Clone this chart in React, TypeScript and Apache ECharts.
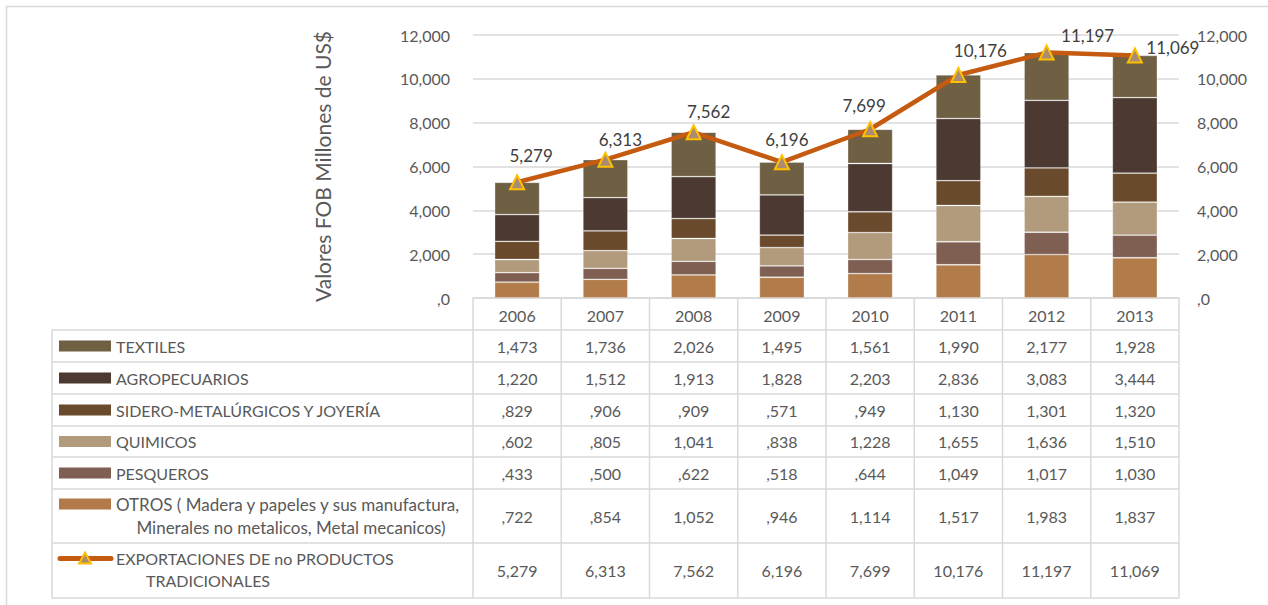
import { useEffect, useRef } from 'react';
import * as echarts from 'echarts';

// ---------- data ----------
const years = ['2006', '2007', '2008', '2009', '2010', '2011', '2012', '2013'];
const textiles = [1473, 1736, 2026, 1495, 1561, 1990, 2177, 1928];
const agropecuarios = [1220, 1512, 1913, 1828, 2203, 2836, 3083, 3444];
const sideroMetalurgicos = [829, 906, 909, 571, 949, 1130, 1301, 1320];
const quimicos = [602, 805, 1041, 838, 1228, 1655, 1636, 1510];
const pesqueros = [433, 500, 622, 518, 644, 1049, 1017, 1030];
const otros = [722, 854, 1052, 946, 1114, 1517, 1983, 1837];
const exportaciones = [5279, 6313, 7562, 6196, 7699, 10176, 11197, 11069];
const axisMin = 0;
const axisMax = 12000;
const axisInterval = 2000;
const axisTitle = 'Valores FOB Millones de US$';

// ---------- layout / style (not data) ----------
const W = 1268;
const H = 605;
const FONT = 'Lato, "Open Sans", sans-serif';
const gridLeft = 473;
const gridRight = 1179;
const gridTop = 35;
const gridBottom = 298;
const tableLeft = 52;
const rowBounds = [330, 362, 394, 426, 457, 489, 543, 598];
const borderCol = '#d9d9d9';
const textCol = '#595959';
const lineCol = '#C55A11';
const markerFill = '#A98C72';
const markerStroke = '#FFC000';
// label shifts for the line's data labels (layout only)
const labelShift = [[14, -8], [15, -2], [15, -2], [5, -4], [-6, -5], [22, -6], [41, 1], [38, 11]];

const fmt = (v: number) =>
  v === 0 ? ',0' : v < 1000 ? ',' + String(v).padStart(3, '0') : v.toLocaleString('en-US');

type Row = {
  name: string;
  values: number[];
  color: string;
  kind: 'bar' | 'line';
  lines: { text: string; x: number; align: string; dy: number; size?: number }[];
};

const rows: Row[] = [
  { name: 'TEXTILES', values: textiles, color: '#6F5F43', kind: 'bar', lines: [{ text: 'TEXTILES', x: 116, align: 'left', dy: 0 }] },
  { name: 'AGROPECUARIOS', values: agropecuarios, color: '#4B3932', kind: 'bar', lines: [{ text: 'AGROPECUARIOS', x: 116, align: 'left', dy: 0 }] },
  { name: 'SIDERO-METALÚRGICOS Y JOYERÍA', values: sideroMetalurgicos, color: '#6A4A2C', kind: 'bar', lines: [{ text: 'SIDERO-METALÚRGICOS Y JOYERÍA', x: 116, align: 'left', dy: 0 }] },
  { name: 'QUIMICOS', values: quimicos, color: '#B19B7C', kind: 'bar', lines: [{ text: 'QUIMICOS', x: 116, align: 'left', dy: 0 }] },
  { name: 'PESQUEROS', values: pesqueros, color: '#7E5F52', kind: 'bar', lines: [{ text: 'PESQUEROS', x: 116, align: 'left', dy: 0 }] },
  {
    name: 'OTROS ( Madera y papeles y sus manufactura, Minerales no metalicos, Metal mecanicos)',
    values: otros, color: '#B17C4A', kind: 'bar',
    lines: [
      { text: 'OTROS ( Madera y papeles y sus manufactura,', x: 116, align: 'left', dy: -12, size: 17 },
      { text: 'Minerales no metalicos, Metal mecanicos)', x: 291, align: 'center', dy: 11, size: 17 },
    ],
  },
  {
    name: 'EXPORTACIONES DE no PRODUCTOS TRADICIONALES',
    values: exportaciones, color: lineCol, kind: 'line',
    lines: [
      { text: 'EXPORTACIONES DE no PRODUCTOS', x: 116, align: 'left', dy: -12 },
      { text: 'TRADICIONALES', x: 208, align: 'center', dy: 10 },
    ],
  },
];

const stackOrder = [5, 4, 3, 2, 1, 0]; // bottom -> top

function txt(text: string, x: number, y: number, align: string, size = 16, fill = textCol) {
  return {
    type: 'text', x, y, silent: true,
    style: {
      text, fill, font: `${size}px ${FONT}`,
      align, verticalAlign: 'middle', textAlign: align, textVerticalAlign: 'middle',
    },
  };
}
function hline(x1: number, x2: number, y: number) {
  return { type: 'line', silent: true, shape: { x1, y1: y, x2, y2: y }, style: { stroke: borderCol, lineWidth: 1.5 } };
}
function vline(x: number, y1: number, y2: number) {
  return { type: 'line', silent: true, shape: { x1: x, y1, x2: x, y2 }, style: { stroke: borderCol, lineWidth: 1.5 } };
}

export default function App() {
  const ref = useRef<HTMLDivElement>(null);
  useEffect(() => {
    if (!ref.current) return;
    const chart = echarts.init(ref.current, undefined, { renderer: 'svg' });
    const band = (gridRight - gridLeft) / years.length;
    const colX = (i: number) => gridLeft + band * (i + 0.5);

    const graphics: any[] = [];
    // outer frame
    graphics.push(hline(6, W, 6.5));
    graphics.push(vline(6.5, 6, H));
    // table grid
    rowBounds.forEach((y) => graphics.push(hline(tableLeft, gridRight, y)));
    graphics.push(vline(tableLeft, rowBounds[0], rowBounds[rowBounds.length - 1]));
    for (let i = 0; i <= years.length; i++) {
      graphics.push(vline(gridLeft + band * i, gridBottom, rowBounds[rowBounds.length - 1]));
    }
    // rows
    rows.forEach((r, ri) => {
      const yTop = rowBounds[ri];
      const yBot = rowBounds[ri + 1];
      const yc = (yTop + yBot) / 2;
      const firstLineY = yc + r.lines[0].dy;
      if (r.kind === 'bar') {
        graphics.push({
          type: 'rect', silent: true,
          shape: { x: 59, y: firstLineY - 5.5, width: 52, height: 11 },
          style: { fill: r.color },
        });
      } else {
        graphics.push({
          type: 'line', silent: true,
          shape: { x1: 60, y1: firstLineY, x2: 111, y2: firstLineY },
          style: { stroke: r.color, lineWidth: 5, lineCap: 'round' },
        });
        graphics.push({
          type: 'polygon', silent: true,
          shape: { points: [[85, firstLineY - 6], [91, firstLineY + 5], [79, firstLineY + 5]] },
          style: { fill: markerFill, stroke: markerStroke, lineWidth: 2 },
        });
      }
      r.lines.forEach((l) => graphics.push(txt(l.text, l.x, yc + l.dy, l.align, l.size || 16)));
      r.values.forEach((v, i) => graphics.push(txt(fmt(v), colX(i), yc, 'center')));
    });

    const barSeries = stackOrder.map((idx) => ({
      name: rows[idx].name,
      type: 'bar',
      stack: 'total',
      data: rows[idx].values,
      barWidth: '51%',
      itemStyle: { color: rows[idx].color, borderColor: 'rgba(255,255,255,0.35)', borderWidth: 0.8 },
    }));

    const lineData = exportaciones.map((v, i) => ({
      value: v,
      label: { offset: labelShift[i] },
    }));

    chart.setOption({
      animation: false,
      backgroundColor: '#ffffff',
      textStyle: { fontFamily: FONT },
      grid: { left: gridLeft, right: W - gridRight, top: gridTop, bottom: H - gridBottom, containLabel: false },
      xAxis: {
        type: 'category',
        data: years,
        axisLine: { show: true, lineStyle: { color: borderCol, width: 1.5 } },
        axisTick: { show: false },
        axisLabel: { color: textCol, fontSize: 16, margin: 9, fontFamily: FONT },
        splitLine: { show: false },
      },
      yAxis: [
        {
          type: 'value', min: axisMin, max: axisMax, interval: axisInterval,
          name: axisTitle, nameLocation: 'middle', nameRotate: 90, nameGap: 140,
          nameTextStyle: { color: textCol, fontSize: 21, fontFamily: FONT },
          axisLine: { show: false }, axisTick: { show: false },
          axisLabel: { color: textCol, fontSize: 16, margin: 23, formatter: (v: number) => fmt(v), fontFamily: FONT },
          splitLine: { show: true, lineStyle: { color: borderCol, width: 1.5 } },
        },
        {
          type: 'value', min: axisMin, max: axisMax, interval: axisInterval, position: 'right',
          axisLine: { show: false }, axisTick: { show: false },
          axisLabel: { color: textCol, fontSize: 16, margin: 18, formatter: (v: number) => fmt(v), fontFamily: FONT },
          splitLine: { show: false },
        },
      ],
      series: [
        ...barSeries,
        {
          name: rows[6].name,
          type: 'line',
          yAxisIndex: 0,
          data: lineData,
          z: 5,
          symbol: 'triangle',
          symbolSize: 14,
          lineStyle: { color: lineCol, width: 4.5 },
          itemStyle: { color: markerFill, borderColor: markerStroke, borderWidth: 2 },
          label: {
            show: true, position: 'top', distance: 2,
            color: '#404040', fontSize: 17, fontFamily: FONT,
            formatter: (p: any) => fmt(p.value),
          },
        },
      ],
      graphic: graphics,
    });
    return () => chart.dispose();
  }, []);
  return <div ref={ref} style={{ position: 'absolute', left: 0, top: 0, width: W, height: H }} />;
}
